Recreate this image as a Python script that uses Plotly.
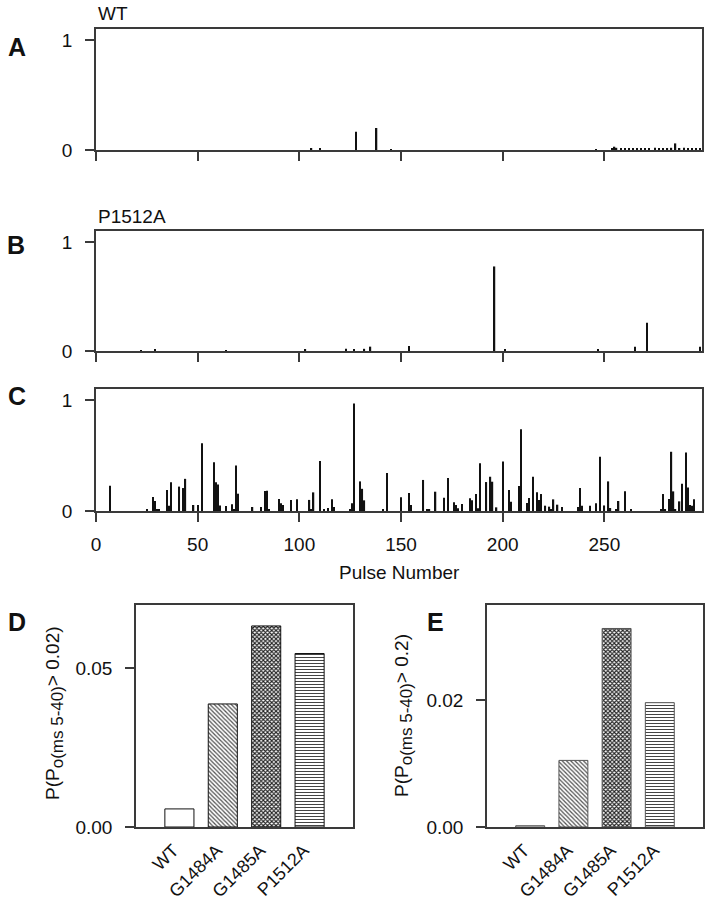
import plotly.graph_objects as go

# ---------------- data ----------------
wt_pulse = [106, 110, 128, 138, 145, 246, 254, 255, 256, 258, 260, 262, 264, 266, 268,
            270, 272, 275, 277, 279, 281, 283, 285, 287, 289, 291, 293, 295, 297]
wt_value = [0.012, 0.015, 0.165, 0.2, 0.008, 0.008, 0.015, 0.03, 0.02, 0.01, 0.012, 0.015,
            0.012, 0.015, 0.01, 0.012, 0.018, 0.02, 0.01, 0.012, 0.015, 0.02, 0.06, 0.015,
            0.02, 0.012, 0.01, 0.015, 0.012]

p1512_pulse = [22, 29, 64, 103, 123, 127, 132, 135, 154, 196, 201, 247, 265, 271, 297]
p1512_value = [0.008, 0.01, 0.008, 0.01, 0.02, 0.018, 0.02, 0.04, 0.045, 0.775, 0.012,
               0.012, 0.04, 0.258, 0.04]

c_pulse = [7, 25, 28, 29, 30, 31, 35, 36, 37, 41, 43, 44, 48, 50, 52, 58, 59, 60, 61, 64,
           67, 68, 69, 70, 77, 81, 83, 84, 85, 90, 91, 92, 96, 99, 105, 106, 107, 110, 112,
           114, 116, 117, 125, 126, 127, 130, 131, 132, 141, 143, 150, 154, 155, 161, 163,
           164, 167, 171, 173, 176, 177, 178, 180, 184, 185, 187, 188, 189, 192, 194, 195,
           197, 200, 203, 204, 208, 209, 212, 213, 215, 217, 218, 219, 221, 223, 224, 225,
           227, 229, 237, 238, 239, 243, 246, 248, 250, 252, 253, 256, 257, 260, 263, 278,
           279, 280, 282, 283, 284, 285, 287, 288, 290, 291, 292, 293, 294]
c_value = [0.228, 0.015, 0.126, 0.09, 0.01, 0.01, 0.19, 0.048, 0.26, 0.22, 0.207, 0.29,
           0.054, 0.054, 0.61, 0.44, 0.26, 0.24, 0.05, 0.045, 0.06, 0.01, 0.41, 0.156, 0.036,
           0.036, 0.18, 0.183, 0.01, 0.108, 0.069, 0.054, 0.10, 0.105, 0.10, 0.015, 0.168,
           0.45, 0.01, 0.027, 0.105, 0.036, 0.01, 0.07, 0.97, 0.267, 0.20, 0.096, 0.018,
           0.342, 0.123, 0.162, 0.054, 0.28, 0.01, 0.01, 0.174, 0.12, 0.297, 0.078, 0.054,
           0.024, 0.063, 0.114, 0.096, 0.153, 0.024, 0.43, 0.261, 0.309, 0.264, 0.033, 0.447,
           0.19, 0.084, 0.225, 0.736, 0.072, 0.117, 0.309, 0.168, 0.099, 0.153, 0.048, 0.039,
           0.01, 0.105, 0.057, 0.036, 0.036, 0.207, 0.048, 0.048, 0.069, 0.49, 0.05, 0.267,
           0.027, 0.01, 0.09, 0.177, 0.01, 0.01, 0.153, 0.01, 0.108, 0.534, 0.177, 0.01,
           0.087, 0.246, 0.528, 0.213, 0.054, 0.048, 0.105]

x_ticks = [0, 50, 100, 150, 200, 250]

mutants = ["WT", "G1484A", "G1485A", "P1512A"]
d_values = [0.0057, 0.0388, 0.0634, 0.0547]
e_values = [0.0002, 0.0105, 0.0313, 0.0196]

# ---------------- layout helpers ----------------
W, H = 711, 900
FONT = "Liberation Sans, Arial, sans-serif"
AXC = "#3a3a3a"


def xd(a, b):
    return [a / W, b / W]


def yd(top, bottom):
    return [1 - bottom / H, 1 - top / H]


fig = go.Figure()

spike = dict(marker_color="#111111", marker_line_width=0, width=0.65, showlegend=False)
fig.add_trace(go.Bar(x=wt_pulse, y=wt_value, xaxis="x", yaxis="y", **spike))
fig.add_trace(go.Bar(x=p1512_pulse, y=p1512_value, xaxis="x2", yaxis="y2", **spike))
fig.add_trace(go.Bar(x=c_pulse, y=c_value, xaxis="x3", yaxis="y3", **spike))

pattern = dict(shape=["", "\\", "x", "-"], size=[4, 3, 3, 3],
               solidity=[0.0, 0.42, 0.6, 0.35],
               fgcolor=["#000", "#555", "#222", "#444"], bgcolor="white", fillmode="replace")
fig.add_trace(go.Bar(x=mutants, y=d_values, xaxis="x4", yaxis="y4", width=0.67,
                     marker=dict(color="white", line=dict(color="#111", width=1), pattern=pattern),
                     showlegend=False))
pattern_e = dict(pattern)
pattern_e["fgcolor"] = ["#777", "#555", "#222", "#444"]
pattern_e["shape"] = ["x", "\\", "x", "-"]
fig.add_trace(go.Bar(x=mutants, y=e_values, xaxis="x5", yaxis="y5", width=0.67,
                     marker=dict(color="white", line=dict(color="#555", width=1), pattern=pattern_e),
                     showlegend=False))

common_line = dict(showline=True, linecolor=AXC, linewidth=1.5, mirror=True,
                   showgrid=False, zeroline=False, automargin=False)

ts = dict(family=FONT, size=19, color="#111")
cs = dict(family=FONT, size=18, color="#111")


def pulse_x(domain_y_anchor, show_labels):
    return dict(domain=xd(96, 702), anchor=domain_y_anchor, range=[0, 298],
                tickvals=x_ticks, showticklabels=show_labels, ticks="outside", ticklen=9,
                tickwidth=1.5, tickcolor=AXC, tickfont=ts, ticklabelstandoff=6,
                **common_line)


def pulse_y(top, bottom, anchor):
    return dict(domain=yd(top, bottom), anchor=anchor, range=[0, 1.1], tickvals=[0, 1],
                ticks="outside", ticklen=9, tickwidth=1.5, tickcolor=AXC, tickfont=ts,
                ticklabelstandoff=9, **common_line)


def cat_x(anchor, a, b):
    return dict(domain=xd(a, b), anchor=anchor, range=[-1, 4], tickangle=-45,
                ticks="", tickfont=cs, ticklabelshift=-6, ticklabelstandoff=4,
                **common_line)


layout = dict(
    width=W, height=H, margin=dict(l=0, r=0, t=0, b=0, pad=0),
    paper_bgcolor="white", plot_bgcolor="white", font=dict(family=FONT, color="#111"),
    showlegend=False, barmode="overlay",
    xaxis=pulse_x("y", False), yaxis=pulse_y(29, 150, "x"),
    xaxis2=pulse_x("y2", False), yaxis2=pulse_y(231, 351, "x2"),
    xaxis3=pulse_x("y3", True), yaxis3=pulse_y(389, 511, "x3"),
    xaxis4=cat_x("y4", 136, 353),
    yaxis4=dict(domain=yd(605, 827), anchor="x4", range=[0, 0.07], tickvals=[0, 0.05],
                ticktext=["0.00", "0.05"], ticks="outside", ticklen=9, tickwidth=1.5,
                tickcolor=AXC, tickfont=ts, ticklabelstandoff=9, **common_line),
    xaxis5=cat_x("y5", 487, 703),
    yaxis5=dict(domain=yd(605, 827), anchor="x5", range=[0, 0.035], tickvals=[0, 0.02],
                ticktext=["0.00", "0.02"], ticks="outside", ticklen=9, tickwidth=1.5,
                tickcolor=AXC, tickfont=ts, ticklabelstandoff=9, **common_line),
)
fig.update_layout(**layout)


def ann(text, x, y, size=19, bold=False, angle=0, xanchor="center"):
    t = f"<b>{text}</b>" if bold else text
    fig.add_annotation(text=t, x=x / W, y=1 - y / H, xref="paper", yref="paper",
                       showarrow=False, textangle=angle, xanchor=xanchor, yanchor="middle",
                       font=dict(family=FONT, size=size, color="#111"))


for letter, lx, ly in [("A", 17, 47), ("B", 16, 245), ("C", 17, 396), ("D", 17, 622),
                       ("E", 435, 622)]:
    ann(letter, lx, ly, size=25, bold=True)

ann("WT", 96, 14, xanchor="left")
ann("P1512A", 96, 216, xanchor="left")
ann("Pulse Number", 399, 572)

sub = '<sub><span style="font-size:17px">o(ms 5-40)</span></sub>'
ann(f"P(P{sub}> 0.02)", 54, 713, angle=-90)
ann(f"P(P{sub}> 0.2)", 403, 716, angle=-90)

fig.write_html("out.html", config={"displayModeBar": False},
               post_script="document.body.style.margin='0px';document.body.style.overflow='hidden';")
